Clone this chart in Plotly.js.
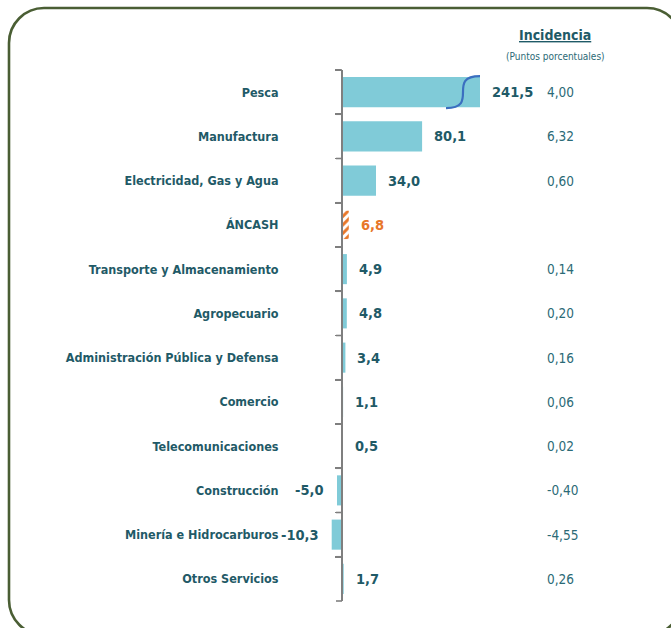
<!DOCTYPE html>
<html>
<head>
<meta charset="utf-8">
<script src="https://cdn.plot.ly/plotly-3.0.1.min.js"></script>
<style>
html,body{margin:0;padding:0;background:#fff;}
#chart{width:671px;height:628px;}
</style>
</head>
<body>
<div id="chart"></div>
<script>
// ---- data ----
const categories = [
  "Pesca", "Manufactura", "Electricidad, Gas y Agua", "ÁNCASH",
  "Transporte y Almacenamiento", "Agropecuario", "Administración Pública y Defensa",
  "Comercio", "Telecomunicaciones", "Construcción", "Minería e Hidrocarburos", "Otros Servicios"
];
const variation = [241.5, 80.1, 34.0, 6.8, 4.9, 4.8, 3.4, 1.1, 0.5, -5.0, -10.3, 1.7];
const incidence = [4.00, 6.32, 0.60, null, 0.14, 0.20, 0.16, 0.06, 0.02, -0.40, -4.55, 0.26];
const highlight = "ÁNCASH";
const incidenceTitle = "Incidencia";
const incidenceSubtitle = "(Puntos porcentuales)";

// ---- styling / layout params ----
const W = 671, H = 628;
const M = {l: 328, r: 69, t: 70, b: 27};
const PW = W - M.l - M.r, PH = H - M.t - M.b;
const xRange = [-14, 260];
const breakAt = 138;               // bars longer than this are drawn broken
const FONT = "'DejaVu Sans Condensed', 'Liberation Sans Narrow', sans-serif";
const TEAL = "#1f5a67", TEAL2 = "#2b6a76", BAR = "#80cbd8", ORANGE = "#e8772a", AXIS = "#7f7f7f";

const px = x => (x - M.l) / PW;          // pixel -> paper
const py = y => 1 - (y - M.t) / PH;

const fmt = (v, d) => v.toFixed(d).replace(".", ",");
const n = categories.length;
const plotted = variation.map(v => Math.min(v, breakAt));
const isHi = categories.map(c => c === highlight);

const idxMain = categories.map((c, i) => i).filter(i => !isHi[i]);
const idxHi = categories.map((c, i) => i).filter(i => isHi[i]);

const mainTrace = {
  type: "bar", orientation: "h",
  y: idxMain.map(i => categories[i]),
  x: idxMain.map(i => plotted[i]),
  width: 0.68,
  marker: {color: BAR, line: {width: 0}},
  hoverinfo: "skip"
};
const hiTrace = {
  type: "bar", orientation: "h",
  y: idxHi.map(i => categories[i]),
  x: idxHi.map(i => plotted[i]),
  width: 0.64,
  marker: {
    color: "#ffffff", line: {width: 0},
    pattern: {shape: "/", fgcolor: ORANGE, bgcolor: "#ffffff", size: 6, solidity: 0.5}
  },
  hoverinfo: "skip"
};

const annotations = [];
categories.forEach((c, i) => {
  const v = variation[i];
  annotations.push({
    x: plotted[i], y: c, xref: "x", yref: "y",
    text: fmt(v, 1), showarrow: false,
    xanchor: v >= 0 ? "left" : "right",
    xshift: v >= 0 ? 10 : -11,
    font: {family: FONT, size: 14.5, weight: "bold", color: isHi[i] ? ORANGE : TEAL}
  });
  if (incidence[i] !== null) {
    annotations.push({
      x: px(545), y: c, xref: "paper", yref: "y",
      text: fmt(incidence[i], 2), showarrow: false, xanchor: "left",
      font: {family: FONT, size: 13.5, color: TEAL2}
    });
  }
});
annotations.push({
  x: px(555), y: py(35), xref: "paper", yref: "paper",
  xanchor: "center", yanchor: "middle",
  text: "<b><u>" + incidenceTitle + "</u></b>", showarrow: false,
  font: {family: FONT, size: 14, color: TEAL}
});
annotations.push({
  x: px(555), y: py(57), xref: "paper", yref: "paper",
  xanchor: "center", yanchor: "middle",
  text: incidenceSubtitle, showarrow: false,
  font: {family: FONT, size: 10, color: TEAL2}
});

const shapes = [];
// category-boundary tick marks on the zero axis
for (let k = 0; k <= n; k++) {
  shapes.push({
    type: "line", xref: "x", xsizemode: "pixel", xanchor: 0, x0: -6, x1: 0,
    yref: "paper", y0: 1 - k / n, y1: 1 - k / n,
    line: {color: AXIS, width: 1.6}
  });
}
// break marker on truncated bars
categories.forEach((c, i) => {
  if (variation[i] > breakAt) {
    const yc = 1 - (i + 0.5) / n;
    const yb = yc - 0.36 / n, yt = yc + 0.36 / n;
    const x1 = breakAt, x0 = breakAt - 34;
    shapes.push({
      type: "path", xref: "x", yref: "paper",
      path: `M ${x0},${yb} C ${x1},${yb} ${x0},${yt} ${x1},${yt}`,
      line: {color: "#3b6fc0", width: 2.2}
    });
  }
});

// rounded border frame
(function () {
  const L = 9, T = 8, R = 682, B = 635, r = 35, k = 0.5523 * r;
  const P = (x, y) => `${px(x)},${py(y)}`;
  const path =
    `M ${P(L + r, T)} L ${P(R - r, T)} C ${P(R - r + k, T)} ${P(R, T + r - k)} ${P(R, T + r)} ` +
    `L ${P(R, B - r)} C ${P(R, B - r + k)} ${P(R - r + k, B)} ${P(R - r, B)} ` +
    `L ${P(L + r, B)} C ${P(L + r - k, B)} ${P(L, B - r + k)} ${P(L, B - r)} ` +
    `L ${P(L, T + r)} C ${P(L, T + r - k)} ${P(L + r - k, T)} ${P(L + r, T)} Z`;
  shapes.push({type: "path", xref: "paper", yref: "paper", path,
    line: {color: "#4a5e34", width: 2.6}, layer: "below"});
})();

const layout = {
  width: W, height: H,
  margin: M,
  paper_bgcolor: "#ffffff",
  plot_bgcolor: "rgba(0,0,0,0)",
  showlegend: false,
  barmode: "overlay",
  xaxis: {
    range: xRange, fixedrange: true,
    showgrid: false, zeroline: false, showline: false,
    showticklabels: false, ticks: ""
  },
  yaxis: {
    type: "category", autorange: "reversed",
    categoryorder: "array", categoryarray: categories,
    anchor: "free", position: (0 - xRange[0]) / (xRange[1] - xRange[0]),
    showline: true, linecolor: AXIS, linewidth: 2,
    ticks: "outside", tickson: "boundaries", ticklen: 6, tickwidth: 1.6, tickcolor: AXIS,
    showgrid: false, zeroline: false,
    ticklabelstandoff: 60,
    tickfont: {family: FONT, size: 12.5, weight: "bold", color: TEAL}
  },
  annotations, shapes
};

Plotly.newPlot("chart", [mainTrace, hiTrace], layout, {displayModeBar: false, staticPlot: true});
</script>
</body>
</html>
